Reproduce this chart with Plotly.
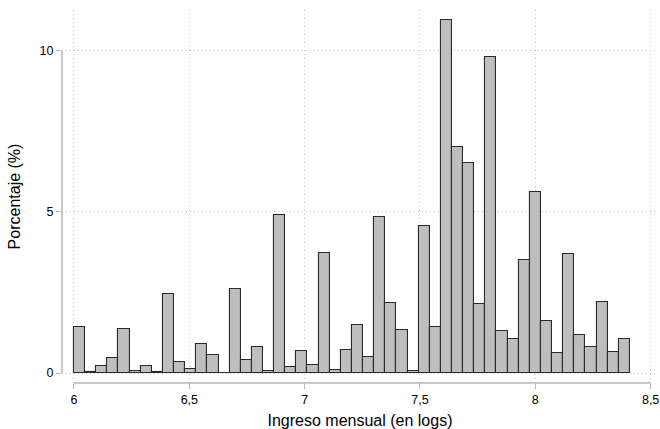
import plotly.graph_objects as go

# Histogram of log monthly income: 50 equal-width bins starting at 6.0
bin_start = 6.0
bin_width = 0.0482
percent = [
    1.44, 0.03, 0.23, 0.47, 1.38, 0.05, 0.21, 0.04, 2.46, 0.33,
    0.12, 0.89, 0.55, 0.01, 2.62, 0.41, 0.82, 0.07, 4.92, 0.18,
    0.69, 0.26, 3.74, 0.10, 0.70, 1.49, 0.49, 4.84, 2.16, 1.35,
    0.07, 4.56, 1.42, 10.96, 7.01, 6.51, 2.13, 9.82, 1.31, 1.05,
    3.50, 5.63, 1.62, 0.63, 3.69, 1.17, 0.80, 2.21, 0.65, 1.05,
]
left_edges = [bin_start + i * bin_width for i in range(len(percent))]

x_ticks = [6, 6.5, 7, 7.5, 8, 8.5]
x_tick_text = ["6", "6,5", "7", "7,5", "8", "8,5"]
y_ticks = [0, 5, 10]
y_tick_text = ["0", "5", "10"]

FONT = "Liberation Sans, Arial, Helvetica, sans-serif"
AXIS_GRAY = "#b4b4b4"
GRID = dict(showgrid=True, gridcolor="#c4c4c4", griddash="1px,3px", gridwidth=1)

fig = go.Figure(
    go.Bar(
        x=left_edges,
        y=percent,
        width=bin_width,
        offset=0,
        marker=dict(color="#bebebe", line=dict(color="#2a2a2a", width=1.1)),
        hoverinfo="skip",
    )
)

fig.update_layout(
    width=660,
    height=429,
    margin=dict(l=62, r=2, t=10, b=46),
    paper_bgcolor="white",
    plot_bgcolor="white",
    showlegend=False,
    bargap=0,
    font=dict(family=FONT, color="black", size=12),
    xaxis=dict(
        range=[5.948, 8.532],
        tickvals=x_ticks,
        ticktext=x_tick_text,
        ticks="outside",
        ticklen=5,
        tickcolor=AXIS_GRAY,
        tickfont=dict(size=12.5),
        showline=False,
        zeroline=False,
        title=dict(text="Ingreso mensual (en logs)", font=dict(size=16), standoff=9),
        **GRID,
    ),
    yaxis=dict(
        range=[-0.31, 11.27],
        tickvals=y_ticks,
        ticktext=y_tick_text,
        ticks="outside",
        ticklen=5,
        tickcolor=AXIS_GRAY,
        tickfont=dict(size=12.5),
        showline=False,
        zeroline=False,
        title=dict(text="Porcentaje (%)", font=dict(size=16), standoff=14),
        **GRID,
    ),
)

# Axis lines spanning only the labelled range
fig.add_shape(type="line", xref="paper", yref="y", x0=0, x1=0, y0=0, y1=10,
              line=dict(color=AXIS_GRAY, width=1.5))
fig.add_shape(type="line", xref="x", yref="paper", x0=6, x1=8.5, y0=0, y1=0,
              line=dict(color=AXIS_GRAY, width=1.5))

fig.write_html("out.html")
